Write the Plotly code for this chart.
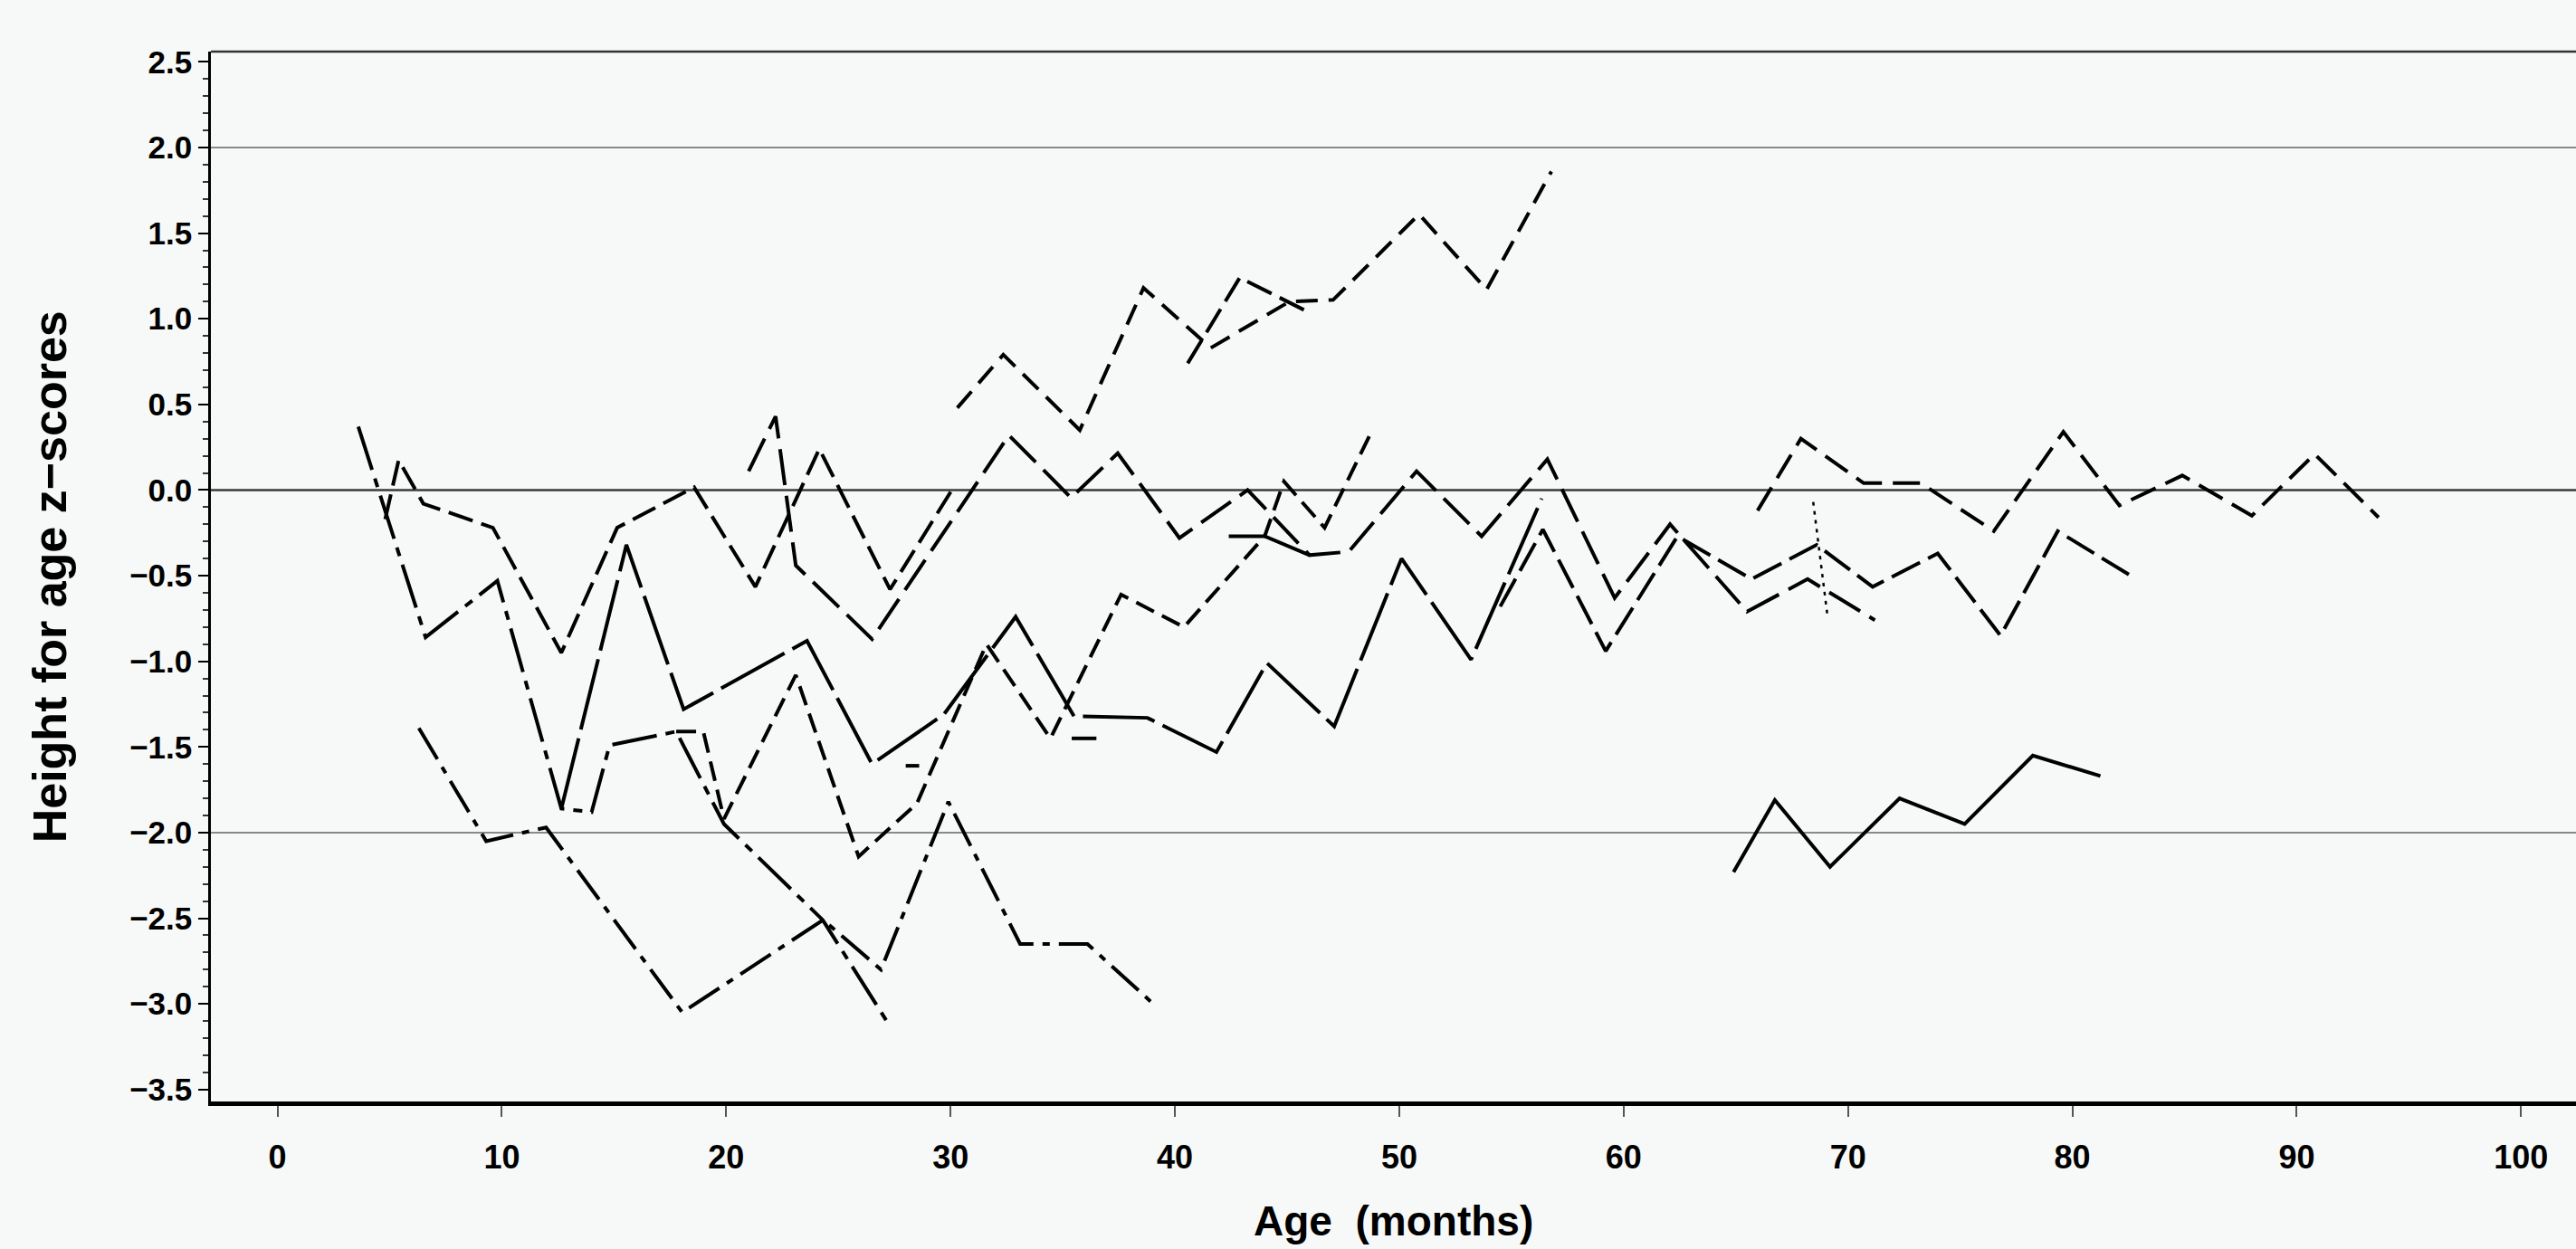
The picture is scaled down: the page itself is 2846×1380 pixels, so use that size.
import plotly.graph_objects as go

# ---- data: age (months) and height-for-age z-scores per child ----
s1_age = [3.6, 6.6, 9.8, 12.65, 14.0, 14.8, 17.77, 19.9, 24.3, 27.2]
s1_z = [0.37, -0.86, -0.53, -1.86, -1.88, -1.49, -1.41, -1.95, -2.51, -3.11]

s2_age = [4.8, 5.4, 6.5, 9.6, 12.65, 15.14, 18.57, 21.3, 24.15, 27.3, 30.2]
s2_z = [-0.17, 0.175, -0.08, -0.22, -0.95, -0.22, 0.016, -0.565, 0.24, -0.58, 0.03]

s3_age = [21.0, 22.2, 23.1, 26.5, 32.6, 35.37, 37.45, 40.2, 43.24, 46.0, 47.75,
          50.77, 53.67, 56.6, 59.6, 62.07, 65.5, 68.2, 71.2]
s3_z = [0.11, 0.43, -0.44, -0.87, 0.32, -0.045, 0.215, -0.28, 0.0, -0.38, -0.36,
        0.11, -0.27, 0.18, -0.63, -0.2, -0.71, -0.52, -0.76]

m_age = [12.65, 15.55, 18.1, 23.6, 26.5, 29.7, 32.9, 35.5, 38.77, 41.85, 44.1,
         47.1, 50.1, 53.2, 56.35]
m_z = [-1.86, -0.32, -1.28, -0.88, -1.6, -1.31, -0.74, -1.32, -1.33, -1.53, -1.01,
       -1.38, -0.40, -0.99, -0.05]

x_age = [17.77, 18.98, 19.9, 23.1, 25.9, 28.5, 31.6, 34.45, 37.6, 40.4, 44.0,
         44.86, 46.67, 48.76]
x_z = [-1.41, -1.41, -1.92, -1.08, -2.14, -1.83, -0.9, -1.45, -0.61, -0.80, -0.27,
       0.05, -0.22, 0.34]

t_age = [6.3, 9.3, 11.97, 18.04, 24.32, 26.9, 29.9, 33.1, 36.1, 39.2]
t_z = [-1.39, -2.05, -1.97, -3.05, -2.51, -2.8, -1.82, -2.65, -2.65, -3.02]

a_age = [30.3, 32.35, 35.76, 38.6, 41.6, 45.1, 47.05, 50.88, 53.89, 56.78]
a_z = [0.48, 0.79, 0.35, 1.18, 0.83, 1.10, 1.11, 1.61, 1.17, 1.86]

b_age = [40.57, 42.89, 45.78]
b_z = [0.74, 1.24, 1.05]

v_age = [54.5, 56.4, 59.2, 62.4, 65.7, 68.6, 71.1, 74.0, 76.8, 79.35, 82.6]
v_z = [-0.68, -0.23, -0.94, -0.27, -0.52, -0.32, -0.565, -0.37, -0.85, -0.24, -0.5]

c_age = [65.97, 67.9, 70.7, 73.25, 76.5, 79.6, 82.1, 84.9, 88.0, 90.8, 93.65]
c_z = [-0.12, 0.3, 0.04, 0.04, -0.24, 0.34, -0.09, 0.085, -0.15, 0.21, -0.16]

k_age = [64.9, 66.74, 69.2, 72.3, 75.2, 78.24, 81.25]
k_z = [-2.23, -1.81, -2.2, -1.8, -1.95, -1.55, -1.67]

d_age = [68.45, 69.1]
d_z = [-0.07, -0.75]

z_age = [42.4, 44.0, 46.0]
z_z = [-0.27, -0.27, -0.38]

e_age = [28.0, 28.6]
e_z = [-1.61, -1.61]

f_age = [35.4, 36.5]
f_z = [-1.45, -1.45]

x_ticks = [0, 10, 20, 30, 40, 50, 60, 70, 80, 90, 100]

series = [
    (s1_age, s1_z, "50px,10px,10px,10px", 4),
    (s2_age, s2_z, "28px,10px", 4),
    (s3_age, s3_z, "40px,12px", 4),
    (m_age, m_z, "80px,10px", 4),
    (x_age, x_z, "22px,10px", 4),
    (t_age, t_z, "40px,10px,8px,10px", 4),
    (a_age, a_z, "24px,12px", 4),
    (b_age, b_z, "30px,10px", 4),
    (v_age, v_z, "35px,10px", 4),
    (c_age, c_z, "30px,12px", 4),
    (k_age, k_z, "solid", 4),
    (d_age, d_z, "4px,6px", 2.5),
    (z_age, z_z, "solid", 4),
    (e_age, e_z, "solid", 4),
    (f_age, f_z, "solid", 4),
]

fig = go.Figure()
for xs, ys, dash, w in series:
    fig.add_trace(go.Scatter(x=xs, y=ys, mode="lines",
                             line=dict(color="black", width=w, dash=dash),
                             showlegend=False, hoverinfo="skip"))

bg = "#F6F9F7"
font_fam = "Liberation Sans, Arial, Helvetica, sans-serif"

fig.update_layout(
    width=2846, height=1380,
    margin=dict(l=233, r=0, t=57, b=163, autoexpand=False),
    paper_bgcolor=bg, plot_bgcolor=bg,
    font=dict(family=font_fam, color="black"),
    xaxis=dict(range=[-2.97, 102.45], tickmode="array", tickvals=x_ticks,
               ticks="outside", ticklen=12, tickwidth=2, tickcolor="#555",
               showgrid=False, zeroline=False, showline=True, linecolor="black",
               linewidth=5, automargin=False,
               tickfont=dict(size=36, family=font_fam, weight="bold", color="black"),
               ticklabelstandoff=14),
    yaxis=dict(range=[-3.57, 2.56], tickmode="linear", tick0=0, dtick=0.5,
               tickformat=".1f", ticks="outside", ticklen=11, tickwidth=2,
               tickcolor="black", showgrid=False, zeroline=False, showline=True,
               linecolor="black", linewidth=2.5, automargin=False,
               tickfont=dict(size=35, family=font_fam, weight="bold", color="black"),
               minor=dict(dtick=0.1, tick0=0, ticks="outside", ticklen=6,
                          tickwidth=1.5, tickcolor="#333")),
)

for yv, col, wd in [(2.0, "#8a8a8a", 2), (0.0, "#3a3a3a", 2.5), (-2.0, "#8a8a8a", 2)]:
    fig.add_shape(type="line", xref="paper", yref="y", x0=0, x1=1, y0=yv, y1=yv,
                  line=dict(color=col, width=wd), layer="below")

fig.add_shape(type="line", xref="paper", yref="paper", x0=0, x1=1, y0=1, y1=1,
              line=dict(color="#333", width=2.5))

fig.add_annotation(text="<b>Age\u00a0\u00a0(months)</b>", xref="paper", yref="paper",
                   x=0.5, y=-0.114, xanchor="center", yanchor="middle",
                   showarrow=False, font=dict(size=46, family=font_fam))
fig.add_annotation(text="<b>Height for age z\u2212scores</b>", xref="paper", yref="paper",
                   x=-0.068, y=0.5, xanchor="center", yanchor="middle", textangle=-90,
                   showarrow=False, font=dict(size=52, family=font_fam))

fig.write_html(
    "out.html",
    config={"displayModeBar": False},
    post_script="document.body.style.margin='0';document.body.style.overflow='hidden';"
                "document.body.style.background='" + bg + "';",
)
